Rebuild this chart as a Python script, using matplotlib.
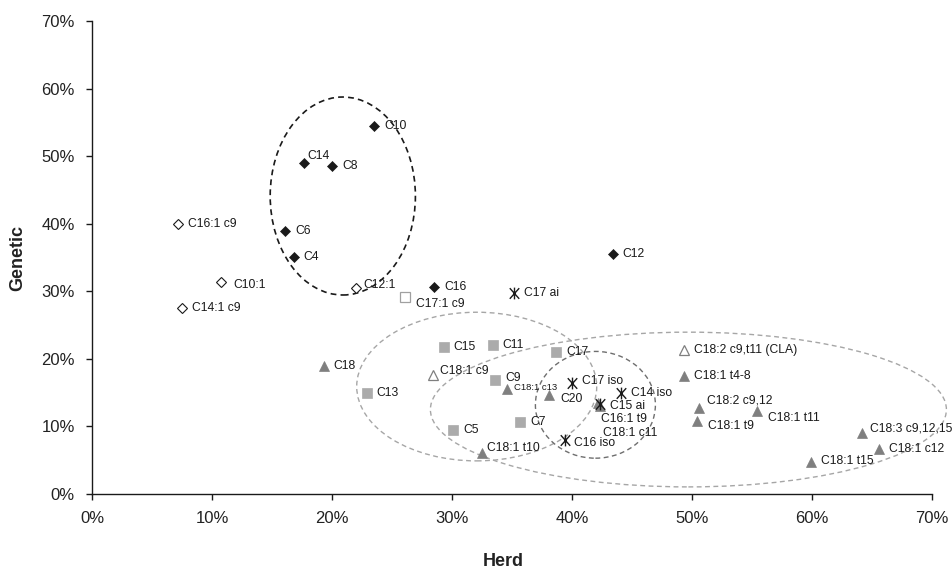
import matplotlib
matplotlib.use("Agg")
import matplotlib.pyplot as plt
from matplotlib.patches import Ellipse
from matplotlib.path import Path
from matplotlib.ticker import FuncFormatter

plt.rcParams['font.family'] = ['Liberation Sans', 'DejaVu Sans']

# ---------------- data (Herd %, Genetic %) ----------------
sat_names = ["C4", "C6", "C8", "C10", "C12", "C14", "C16"]
sat_x = [16.8, 16.1, 20.0, 23.5, 43.4, 17.7, 28.5]
sat_y = [35.1, 38.9, 48.6, 54.4, 35.5, 49.0, 30.6]

mono_names = ["C10:1", "C12:1", "C14:1 c9", "C16:1 c9"]
mono_x = [10.75, 22.0, 7.5, 7.2]
mono_y = [31.4, 30.5, 27.5, 39.9]

odd_names = ["C5", "C7", "C9", "C11", "C13", "C15", "C17"]
odd_x = [30.1, 35.7, 33.6, 33.4, 22.9, 29.3, 38.7]
odd_y = [9.4, 10.6, 16.9, 22.0, 14.9, 21.7, 21.0]

oddmono_names = ["C17:1 c9"]
oddmono_x = [26.1]
oddmono_y = [29.2]

branched_names = ["C15 ai", "C17 ai", "C14 iso", "C16 iso", "C17 iso"]
branched_x = [42.3, 35.2, 44.1, 39.4, 40.0]
branched_y = [13.3, 29.8, 15.0, 8.0, 16.5]

c18_names = ["C18", "C20", "C18:1 t4-8", "C18:1 t9", "C18:1 t10", "C18:1 t11",
             "C18:1 t15", "C18:1 c11", "C18:1 c12", "C18:1 c13", "C18:2 c9,12",
             "C18:3 c9,12,15", "C16:1 t9"]
c18_x = [19.3, 38.1, 49.3, 50.4, 32.5, 55.4, 59.9, 42.3, 65.6, 34.6, 50.6, 64.2, 42.2]
c18_y = [19.0, 14.6, 17.5, 10.8, 6.0, 12.3, 4.7, 13.0, 6.7, 15.5, 12.8, 9.1, 13.5]

c18open_names = ["C18:1 c9", "C18:2 c9,t11 (CLA)"]
c18open_x = [28.4, 49.3]
c18open_y = [17.6, 21.3]

x_ticks = [0, 10, 20, 30, 40, 50, 60, 70]
y_ticks = [0, 10, 20, 30, 40, 50, 60, 70]

# ---------------- layout / style ----------------
DEFAULT_OFF = (10, 0)
label_offsets = {  # pixels (dx, dy up) from marker centre to label start
    "C14": (3, 7), "C12:1": (7, 3), "C17:1 c9": (11, -7), "C10:1": (12, -3),
    "C18:1 c9": (7, 4), "C18:1 c13": (7, 2), "C20": (11, -4), "C15 ai": (10, -2),
    "C16:1 t9": (2.5, -16.6), "C18:1 c11": (3.5, -26.5), "C16 iso": (9, -3.5),
    "C18:1 t10": (5, 5), "C9": (10, 2), "C17 iso": (10, 2),
    "C18:2 c9,12": (8, 7), "C18:1 t9": (11, -5), "C18:1 t11": (11, -7),
    "C18:3 c9,12,15": (8, 4), "C18:1 t15": (10, 1),
}
small_labels = {"C18:1 c13": 6.8}
LABEL_SIZE = 8.7
TXT = "#1a1a1a"

# asterisk marker: an X crossed by a vertical bar
ASTER = Path([(-0.8, -0.9), (0.8, 0.9), (-0.8, 0.9), (0.8, -0.9), (0, -1.0), (0, 1.0)],
             [Path.MOVETO, Path.LINETO, Path.MOVETO, Path.LINETO, Path.MOVETO, Path.LINETO])

W, H = 952, 570
fig = plt.figure(figsize=(W / 100, H / 100), dpi=100)
ax = fig.add_axes([92 / W, (H - 494) / H, 840 / W, 473 / H])

# ellipses
ell_specs = [
    dict(xy=(20.9, 44.1), width=12.1, height=29.3, ec="#1a1a1a", lw=1.2),
    dict(xy=(32.06, 15.9), width=20.0, height=22.0, ec="#a6a6a6", lw=1.0),
    dict(xy=(49.7, 12.5), width=43.0, height=22.9, ec="#a6a6a6", lw=1.0),
    dict(xy=(41.95, 13.2), width=10.0, height=15.8, ec="#6e6e6e", lw=1.0),
]
for s in ell_specs:
    e = Ellipse(s["xy"], s["width"], s["height"], fill=False, edgecolor=s["ec"],
                linewidth=s["lw"], linestyle=(0, (3.5, 2.5)), clip_on=False, zorder=1)
    ax.add_patch(e)

groups = [
    (sat_names, sat_x, sat_y, dict(marker="D", ms=5.3, mfc="#1a1a1a", mec="#1a1a1a", mew=0.5)),
    (mono_names, mono_x, mono_y, dict(marker="D", ms=4.6, mfc="white", mec="#1a1a1a", mew=0.8)),
    (odd_names, odd_x, odd_y, dict(marker="s", ms=7, mfc="#ababab", mec="#ababab", mew=0.5)),
    (oddmono_names, oddmono_x, oddmono_y, dict(marker="s", ms=6.5, mfc="white", mec="#a0a0a0", mew=0.9)),
    (c18_names, c18_x, c18_y, dict(marker="^", ms=7.2, mfc="#7f7f7f", mec="#7f7f7f", mew=0.5)),
    (c18open_names, c18open_x, c18open_y, dict(marker="^", ms=7, mfc="white", mec="#7f7f7f", mew=0.9)),
    (branched_names, branched_x, branched_y, dict(marker=ASTER, ms=8.5, mfc="none", mec="#1a1a1a", mew=1.0)),
]
for names, xs, ys, st in groups:
    ax.plot(xs, ys, linestyle="none", clip_on=False, zorder=3, **st)
    for n, x, y in zip(names, xs, ys):
        dx, dy = label_offsets.get(n, DEFAULT_OFF)
        ax.annotate(n, (x, y), xytext=(dx, dy), textcoords="offset pixels",
                    ha="left", va="center", fontsize=small_labels.get(n, LABEL_SIZE),
                    color=TXT, zorder=4, annotation_clip=False)

ax.set_xlim(0, 70)
ax.set_ylim(0, 70)
ax.set_xticks(x_ticks)
ax.set_yticks(y_ticks)
fmt = FuncFormatter(lambda v, p: f"{v:.0f}%")
ax.xaxis.set_major_formatter(fmt)
ax.yaxis.set_major_formatter(fmt)
for sp in ["top", "right"]:
    ax.spines[sp].set_visible(False)
for sp in ["left", "bottom"]:
    ax.spines[sp].set_linewidth(1.0)
    ax.spines[sp].set_color("#1a1a1a")
ax.tick_params(axis="both", direction="out", length=4.5, width=1.0, color="#1a1a1a",
               labelsize=12, labelcolor="#222222", pad=8)

fig.text(503 / W, 1 - 561 / H, "Herd", ha="center", va="center",
         fontsize=13, fontweight="bold", color="#222222")
fig.text(18 / W, 1 - 258 / H, "Genetic", ha="center", va="center", rotation=90,
         fontsize=13, fontweight="bold", color="#222222")

fig.savefig("out.png", dpi=100)
